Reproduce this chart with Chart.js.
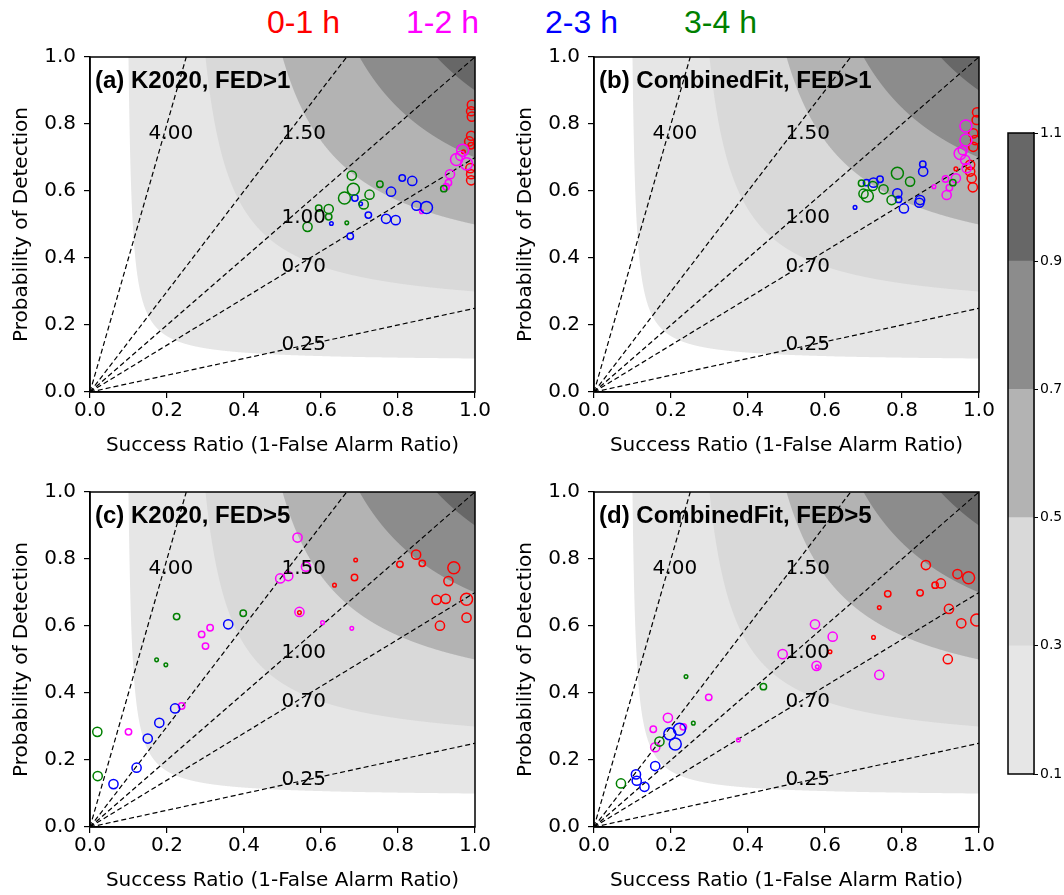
<!DOCTYPE html>
<html>
<head>
<meta charset="utf-8">
<script src="https://cdn.jsdelivr.net/npm/chart.js@4.4.1/dist/chart.umd.min.js"></script>
<style>
  html, body { margin: 0; padding: 0; background: #ffffff; }
  body { width: 1064px; height: 895px; position: relative; overflow: hidden; }
  canvas { position: absolute; }
  .lead { position: absolute; top: 6px; font-family: 'Liberation Sans', Arial, sans-serif; font-size: 32px; line-height: 32px; white-space: pre; }
</style>
</head>
<body>
<div id="titles"></div>
<canvas id="panelA" width="497" height="427" style="left:0px;top:37px"></canvas>
<canvas id="panelB" width="497" height="427" style="left:504px;top:37px"></canvas>
<canvas id="panelC" width="497" height="427" style="left:0px;top:472px"></canvas>
<canvas id="panelD" width="497" height="427" style="left:504px;top:472px"></canvas>
<canvas id="colorbar" width="74" height="669" style="left:990px;top:119px"></canvas>
<script>
// ---------------- data ----------------
const leadTimes = ['0-1 h', '1-2 h', '2-3 h', '3-4 h'];
const leadColors = ['#ff0000', '#ff00ff', '#0000ff', '#008000'];

const panelTitles = ['(a) K2020, FED>1', '(b) CombinedFit, FED>1', '(c) K2020, FED>5', '(d) CombinedFit, FED>5'];

const biasValues = [0.25, 0.7, 1.0, 1.5, 4.0];
const biasLabels = ['0.25', '0.70', '1.00', '1.50', '4.00'];

const csiLevels = [0.1, 0.3, 0.5, 0.7, 0.9, 1.1];
const csiColors = ['#e6e6e6', '#d9d9d9', '#b3b3b3', '#8c8c8c', '#676767'];
const colorbarTicks = [0.1, 0.3, 0.5, 0.7, 0.9, 1.1];
const axisTicks = [0.0, 0.2, 0.4, 0.6, 0.8, 1.0];

// each point: [success ratio, probability of detection, sample weight class 1-4]
// (a) K2020, FED>1
const a_h01 = [[0.992,0.857,3],[0.99,0.838,3],[0.992,0.822,3],[0.99,0.765,3],[0.985,0.748,3],[0.99,0.735,2],[0.97,0.717,1],[0.988,0.668,3],[0.99,0.65,3],[0.99,0.632,3]];
const a_h12 = [[0.968,0.722,4],[0.952,0.694,4],[0.978,0.681,4],[0.962,0.705,3],[0.935,0.65,3],[0.931,0.625,2],[0.925,0.613,2],[0.861,0.538,1]];
const a_h23 = [[0.811,0.639,2],[0.837,0.630,3],[0.782,0.598,3],[0.688,0.579,2],[0.703,0.562,1],[0.723,0.528,2],[0.769,0.517,3],[0.794,0.513,3],[0.848,0.556,3],[0.874,0.551,4],[0.627,0.503,1],[0.676,0.465,2]];
const a_h34 = [[0.680,0.646,3],[0.684,0.605,4],[0.661,0.579,4],[0.726,0.589,3],[0.711,0.560,3],[0.753,0.620,2],[0.620,0.546,3],[0.594,0.549,2],[0.620,0.523,2],[0.565,0.493,3],[0.667,0.505,1],[0.919,0.607,2]];
// (b) CombinedFit, FED>1
const b_h01 = [[0.995,0.835,3],[0.994,0.812,3],[0.985,0.772,3],[0.99,0.752,3],[0.985,0.732,3],[0.977,0.678,3],[0.977,0.658,3],[0.981,0.638,3],[0.984,0.611,3],[0.94,0.666,1]];
const b_h12 = [[0.966,0.794,4],[0.966,0.752,4],[0.951,0.712,4],[0.958,0.722,3],[0.964,0.693,3],[0.968,0.668,3],[0.94,0.638,3],[0.923,0.61,2],[0.916,0.588,3],[0.913,0.636,2],[0.883,0.613,1]];
const b_h23 = [[0.854,0.680,2],[0.855,0.658,3],[0.743,0.635,2],[0.726,0.625,3],[0.708,0.625,2],[0.788,0.593,3],[0.791,0.575,2],[0.805,0.548,3],[0.847,0.573,3],[0.845,0.565,3],[0.678,0.551,1]];
const b_h34 = [[0.788,0.653,4],[0.821,0.628,3],[0.752,0.605,3],[0.724,0.615,3],[0.695,0.623,2],[0.710,0.585,4],[0.700,0.592,3],[0.773,0.573,3],[0.932,0.625,2]];
// (c) K2020, FED>5
const c_h01 = [[0.544,0.64,1],[0.690,0.797,1],[0.687,0.745,2],[0.635,0.722,1],[0.805,0.784,2],[0.847,0.813,3],[0.863,0.787,2],[0.945,0.774,4],[0.931,0.734,3],[0.900,0.678,3],[0.924,0.681,3],[0.978,0.680,4],[0.978,0.625,3],[0.909,0.601,3]];
const c_h12 = [[0.539,0.864,3],[0.494,0.742,3],[0.515,0.749,3],[0.561,0.777,3],[0.544,0.642,3],[0.604,0.610,1],[0.680,0.593,1],[0.312,0.595,2],[0.290,0.575,2],[0.300,0.540,2],[0.100,0.284,2],[0.238,0.361,2]];
const c_h23 = [[0.359,0.605,3],[0.061,0.128,3],[0.121,0.177,3],[0.150,0.264,3],[0.180,0.311,3],[0.221,0.354,3]];
const c_h34 = [[0.019,0.284,3],[0.020,0.152,3],[0.225,0.628,2],[0.173,0.499,1],[0.197,0.484,1],[0.398,0.638,2]];
// (d) CombinedFit, FED>5
const d_h01 = [[0.613,0.523,1],[0.726,0.566,1],[0.741,0.655,1],[0.763,0.696,2],[0.847,0.699,2],[0.862,0.782,3],[0.886,0.722,2],[0.901,0.727,3],[0.944,0.755,3],[0.973,0.744,4],[0.922,0.651,3],[0.954,0.608,3],[0.994,0.618,4],[0.919,0.501,3]];
const d_h12 = [[0.574,0.605,3],[0.620,0.568,3],[0.490,0.516,3],[0.578,0.481,3],[0.580,0.478,1],[0.741,0.454,3],[0.154,0.292,2],[0.192,0.326,3],[0.159,0.238,3],[0.232,0.299,2],[0.298,0.387,2],[0.375,0.260,1]];
const d_h23 = [[0.109,0.157,3],[0.111,0.138,3],[0.131,0.120,3],[0.159,0.182,3],[0.197,0.278,4],[0.222,0.292,4],[0.211,0.248,4]];
const d_h34 = [[0.070,0.130,3],[0.170,0.255,3],[0.239,0.449,1],[0.258,0.310,1],[0.440,0.419,2]];

const panelSeries = [
  [a_h01, a_h12, a_h23, a_h34],
  [b_h01, b_h12, b_h23, b_h34],
  [c_h01, c_h12, c_h23, c_h34],
  [d_h01, d_h12, d_h23, d_h34]
];

// ---------------- styling / layout ----------------
const radiusByWeight = [0, 1.8, 3.2, 4.6, 6.0];
const biasLabelPos = [[0.555, 0.14], [0.555, 0.373], [0.555, 0.52], [0.555, 0.772], [0.21, 0.77]];
const FONT = 'DejaVu Sans';

// title
const titleLefts = [267, 406, 545, 684];
const titles = document.getElementById('titles');
leadTimes.forEach((t, i) => {
  const s = document.createElement('div');
  s.className = 'lead';
  s.style.left = titleLefts[i] + 'px';
  s.style.color = leadColors[i];
  s.textContent = t;
  titles.appendChild(s);
});

const csiPlugin = {
  id: 'csiContours',
  beforeDatasetsDraw(chart) {
    const { ctx, chartArea, scales } = chart;
    const x = scales.x, y = scales.y;
    ctx.save();
    ctx.beginPath();
    ctx.rect(chartArea.left, chartArea.top, chartArea.width, chartArea.height);
    ctx.clip();
    for (let i = 0; i < csiColors.length; i++) {
      const c = csiLevels[i];
      const N = 800;
      ctx.beginPath();
      ctx.moveTo(x.getPixelForValue(c), y.getPixelForValue(1));
      for (let k = 1; k <= N; k++) {
        const u = 1 / c + (1 - 1 / c) * k / N;   // u = 1/SR
        const v = 1 / c + 1 - u;                  // v = 1/POD
        ctx.lineTo(x.getPixelForValue(1 / u), y.getPixelForValue(1 / v));
      }
      ctx.lineTo(x.getPixelForValue(1), y.getPixelForValue(1));
      ctx.closePath();
      ctx.fillStyle = csiColors[i];
      ctx.fill();
    }
    ctx.restore();
  }
};

const textPlugin = {
  id: 'panelText',
  afterDatasetsDraw(chart, args, opts) {
    const { ctx, chartArea, scales } = chart;
    if (!scales.x || !opts || !opts.title) return;
    ctx.save();
    ctx.fillStyle = '#000';
    ctx.font = '20px "' + FONT + '"';
    ctx.textAlign = 'center';
    ctx.textBaseline = 'middle';
    biasLabels.forEach((lab, i) => {
      ctx.fillText(lab, scales.x.getPixelForValue(biasLabelPos[i][0]), scales.y.getPixelForValue(biasLabelPos[i][1]));
    });
    ctx.font = 'bold 24px "Liberation Sans"';
    ctx.textAlign = 'left';
    ctx.fillText(opts.title, chartArea.left + 5, chartArea.top + 24);
    ctx.restore();
  }
};

const framePlugin = {
  id: 'frame',
  afterDatasetsDraw(chart) {
    const { ctx, chartArea } = chart;
    ctx.save();
    ctx.strokeStyle = '#000';
    ctx.lineWidth = 1.5;
    ctx.strokeRect(chartArea.left, chartArea.top, chartArea.width, chartArea.height);
    ctx.restore();
  }
};

function tickFix(scale) { scale.ticks = axisTicks.map(v => ({ value: v })); }

function makePanel(id, idx) {
  const datasets = [];
  biasValues.forEach(b => {
    datasets.push({
      type: 'line',
      data: [{ x: 0, y: 0 }, { x: b >= 1 ? 1 / b : 1, y: b >= 1 ? 1 : b }],
      borderColor: '#000', borderWidth: 1.2, borderDash: [5, 3],
      pointRadius: 0, fill: false, clip: 0, order: 10
    });
  });
  panelSeries[idx].forEach((pts, j) => {
    datasets.push({
      type: 'scatter',
      label: leadTimes[j],
      data: pts.map(p => ({ x: p[0], y: p[1], w: p[2] })),
      borderColor: leadColors[j],
      backgroundColor: 'rgba(0,0,0,0)',
      borderWidth: 1.5,
      pointRadius: ctx => radiusByWeight[ctx.raw ? ctx.raw.w : 2],
      pointHoverRadius: ctx => radiusByWeight[ctx.raw ? ctx.raw.w : 2],
      clip: 0,
      order: 5 - j
    });
  });
  const tickFont = { family: FONT, size: 20 };
  return new Chart(document.getElementById(id), {
    type: 'scatter',
    data: { datasets },
    plugins: [csiPlugin, textPlugin, framePlugin],
    options: {
      responsive: false, animation: false,
      layout: { padding: { top: 14, right: 22, left: 0, bottom: 0 } },
      plugins: { legend: { display: false }, tooltip: { enabled: false }, panelText: { title: panelTitles[idx] } },
      scales: {
        x: {
          type: 'linear', min: 0, max: 1,
          afterBuildTicks: tickFix,
          ticks: { callback: v => Number(v).toFixed(1), font: tickFont, color: '#000', padding: 1, maxRotation: 0, autoSkip: false },
          grid: { drawOnChartArea: false, drawTicks: true, tickLength: 6, color: '#000', lineWidth: 1.2 },
          border: { display: true, color: '#000', width: 1.5 },
          title: { display: true, text: 'Success Ratio (1-False Alarm Ratio)', font: { family: FONT, size: 20 }, color: '#000', padding: { top: 0, bottom: 6 } },
          afterFit: s => { s.height = 72; }
        },
        y: {
          type: 'linear', min: 0, max: 1,
          afterBuildTicks: tickFix,
          ticks: { callback: v => Number(v).toFixed(1), font: tickFont, color: '#000', padding: 8, autoSkip: false },
          grid: { drawOnChartArea: false, drawTicks: true, tickLength: 6, color: '#000', lineWidth: 1.2 },
          border: { display: true, color: '#000', width: 1.5 },
          title: { display: true, text: 'Probability of Detection', font: { family: FONT, size: 20 }, color: '#000', padding: { top: 10, bottom: 0 } },
          afterFit: s => { s.width = 90; }
        }
      }
    }
  });
}

makePanel('panelA', 0);
makePanel('panelB', 1);
makePanel('panelC', 2);
makePanel('panelD', 3);

// colorbar
new Chart(document.getElementById('colorbar'), {
  type: 'bar',
  data: {
    labels: [''],
    datasets: csiColors.map((c, i) => ({
      data: [[csiLevels[i], csiLevels[i + 1]]],
      backgroundColor: c, borderWidth: 0,
      barPercentage: 1, categoryPercentage: 1, grouped: false
    }))
  },
  plugins: [framePlugin],
  options: {
    responsive: false, animation: false,
    layout: { padding: { top: 14, bottom: 14, left: 18, right: 0 } },
    plugins: { legend: { display: false }, tooltip: { enabled: false } },
    scales: {
      x: { display: false },
      y: {
        position: 'right', min: 0.1, max: 1.1,
        afterBuildTicks: s => { s.ticks = colorbarTicks.map(v => ({ value: v })); },
        ticks: { callback: v => Number(v).toFixed(1), font: { family: FONT, size: 14 }, color: '#000', padding: 2 },
        grid: { drawOnChartArea: false, drawTicks: true, tickLength: 4, color: '#000' },
        border: { display: true, color: '#000', width: 1.2 },
        afterFit: s => { s.width = 30; }
      }
    }
  }
});
</script>
</body>
</html>
